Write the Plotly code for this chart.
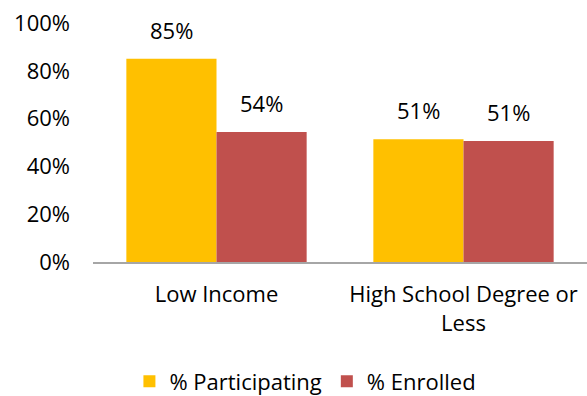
import plotly.graph_objects as go

categories = ["Low Income", "High School Degree or<br>Less"]
participating = [0.85, 0.514]
enrolled = [0.544, 0.506]
series_names = ["% Participating", "% Enrolled"]
colors = ["#FFC000", "#C0504D"]
y_ticks = [0, 0.2, 0.4, 0.6, 0.8, 1.0]
y_tick_labels = ["0%", "20%", "40%", "60%", "80%", "100%"]

font_family = "'Open Sans', sans-serif"
FS = 22
W, H = 587, 396
ML, MR, MT, MB = 93, 0, 23, 134
BARGAP = 0.27

fig = go.Figure()
for name, vals, col in zip(series_names, [participating, enrolled], colors):
    fig.add_trace(go.Bar(
        x=categories, y=vals, name=name, marker=dict(color=col, line=dict(width=0)),
    ))

# data labels above bars, offset from bar centres
plot_w = W - ML - MR
cat_w = plot_w / len(categories)
bar_w = cat_w * (1 - BARGAP) / 2
for i, vals in enumerate([participating, enrolled]):
    shift = (i - 0.5) * bar_w
    for c, v in zip(categories, vals):
        fig.add_annotation(x=c, y=v, text=f"{v:.0%}", showarrow=False,
                           xshift=shift, yanchor="bottom", yshift=12,
                           font=dict(size=FS, color="#000000", family=font_family))

fig.update_layout(
    width=W, height=H,
    margin=dict(l=ML, r=MR, t=MT, b=MB, autoexpand=False),
    paper_bgcolor="white", plot_bgcolor="white",
    barmode="group", bargap=BARGAP, bargroupgap=0,
    font=dict(family=font_family, size=FS, color="#000000"),
    showlegend=True,
    legend=dict(orientation="h", x=0.43, xanchor="center", y=-0.5, yanchor="middle",
                font=dict(size=FS), traceorder="normal", itemwidth=30),
    xaxis=dict(showline=True, linecolor="#A6A6A6", linewidth=2, ticks="",
               showgrid=False, ticklabelstandoff=12, tickfont=dict(size=FS)),
    yaxis=dict(range=[0, 1.0], tickvals=y_ticks, ticktext=y_tick_labels,
               showgrid=False, showline=False, zeroline=False, ticks="",
               ticklabelstandoff=22, tickfont=dict(size=FS)),
)

fig.write_html("out.html")
